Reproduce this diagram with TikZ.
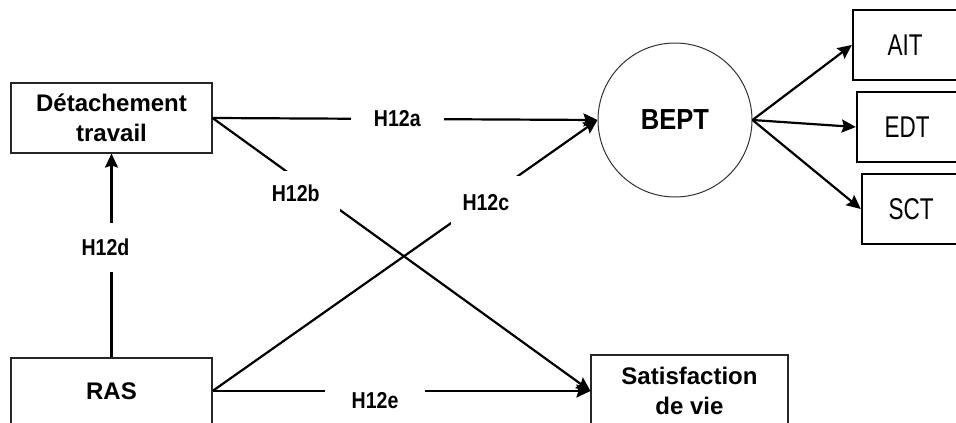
\documentclass[tikz,border=0pt]{standalone}
\usepackage{fontspec}
\setmainfont{Liberation Sans}
\newfontfamily\hypfont[FakeStretch=0.85]{Liberation Sans}
\newfontfamily\narrowfont[FakeStretch=0.75]{Liberation Sans}
\newfontfamily\latfont[FakeStretch=0.88]{Liberation Sans}
\usetikzlibrary{arrows.meta,positioning}

\begin{document}
\begin{tikzpicture}[
  x=1pt, y=-1pt,
  var/.style={draw=black!85, line width=1.1pt, align=center, inner sep=0pt, minimum width=201pt, minimum height=70pt, font=\fontsize{24}{30}\selectfont\bfseries},
  ind/.style={draw=black, line width=2.4pt, inner sep=0pt, minimum height=70pt, font=\narrowfont\fontsize{30}{34}\selectfont},
  lat/.style={circle, draw=black!80, line width=1pt, minimum size=154pt, font=\latfont\fontsize{29}{32}\selectfont\bfseries},
  hyp/.style={fill=white, font=\hypfont\fontsize{23}{26}\selectfont\bfseries},
  arr/.style={-{Stealth[length=14pt, width=13pt, inset=2pt]}, line width=2.2pt},
]
\useasboundingbox (0,0) rectangle (956,423);
\clip (0,0) rectangle (956,423);
% constructs
\node[var] (det) at (111.5,118) {Détachement\\travail};
\node[var, minimum height=66pt] (ras) at (111.5,391) {RAS};
\node[var, minimum width=197pt, minimum height=72pt] (sat) at (689.5,391) {Satisfaction\\de vie};
\node[lat] (bept) at (675,120) {BEPT};
% indicators
\node[ind, minimum width=104pt] (ait) at (905,45) {AIT};
\node[ind, minimum width=100pt] (edt) at (907,127) {EDT};
\node[ind, minimum width=98pt] (sct) at (911,209) {SCT};
% hypotheses
\draw[arr] (det.east) -- node[hyp, pos=0.48, inner xsep=23pt, inner ysep=4pt]{H12a} (bept.west);
\draw[arr] (det.east) -- node[hyp, pos=0.22, yshift=-15pt, inner xsep=20pt, inner ysep=14pt]{H12b} (sat.west);
\draw[arr] (ras.east) -- node[hyp, pos=0.71, yshift=-4pt, inner xsep=12pt, inner ysep=18pt]{H12c} (bept.west);
\draw[arr] (ras.north) -- node[hyp, pos=0.54, xshift=-6pt, inner xsep=4pt, inner ysep=16pt]{H12d} (det.south);
\draw[arr] (ras.east) -- node[hyp, pos=0.43, yshift=-10pt, inner xsep=27pt, inner ysep=5pt]{H12e} (sat.west);
\draw[arr] (bept.east) -- (ait.west);
\draw[arr] (bept.east) -- (edt.west);
\draw[arr] (bept.east) -- (sct.west);
\end{tikzpicture}
\end{document}
